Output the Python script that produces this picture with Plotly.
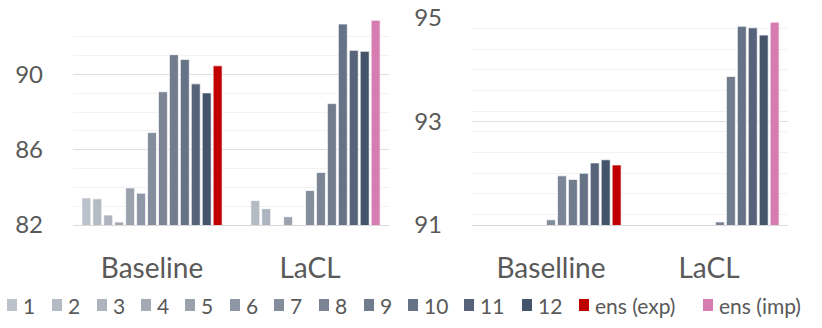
import plotly.graph_objects as go

# categories
left_categories = ["Baseline", "LaCL"]
right_categories = ["Baselline", "LaCL"]

series_names = [str(i) for i in range(1, 13)]

# left chart values (None = below the axis minimum, not visible)
left_values = [
    [83.44, None],
    [83.39, 83.30],
    [82.53, 82.87],
    [82.16, None],
    [83.97, 82.44],
    [83.69, None],
    [86.91, 83.83],
    [89.08, 84.79],
    [91.05, 88.45],
    [90.80, 92.68],
    [89.50, 91.28],
    [89.02, 91.23],
]
left_ens_exp = [90.46, None]
left_ens_imp = [None, 92.88]

# right chart values
right_values = [
    [None, None],
    [None, None],
    [None, None],
    [None, None],
    [None, None],
    [None, None],
    [91.10, None],
    [91.95, 91.06],
    [91.88, 93.87],
    [92.00, 94.84],
    [92.20, 94.81],
    [92.26, 94.67],
]
right_ens_exp = [92.16, None]
right_ens_imp = [None, 94.92]

colors = ["#bcc2cb", "#b5bbc5", "#aeb4bf", "#a3aab6", "#9aa2ae", "#8e97a5",
          "#848d9c", "#7b8595", "#717c8d", "#667286", "#56637a", "#44546a"]
red = "#c00000"
pink = "#d67cb1"
text_col = "#595959"
FONT = "Lato"

W, H = 822, 328
ml, mr, mt, mb = 73, 34, 18, 103
pw = W - ml - mr
ph = H - mt - mb

fig = go.Figure()
line = dict(color="rgba(255,255,255,0.7)", width=1)

for cats, vals, ens_e, ens_i, xa, ya in [
    (left_categories, left_values, left_ens_exp, left_ens_imp, "x", "y"),
    (right_categories, right_values, right_ens_exp, right_ens_imp, "x2", "y2"),
]:
    for i, v in enumerate(vals):
        fig.add_trace(go.Bar(x=cats, y=v, name=series_names[i], marker_color=colors[i],
                             marker_line=line, offsetgroup=str(i), xaxis=xa, yaxis=ya,
                             showlegend=False))
    fig.add_trace(go.Bar(x=cats, y=ens_e, name="ens (exp)", marker_color=red, marker_line=line,
                         offsetgroup="ens", xaxis=xa, yaxis=ya, showlegend=False))
    fig.add_trace(go.Bar(x=cats, y=ens_i, name="ens (imp)", marker_color=pink, marker_line=line,
                         offsetgroup="ens", xaxis=xa, yaxis=ya, showlegend=False))

xcommon = dict(type="category", showline=True, linecolor="#d9d9d9", linewidth=1, ticks="",
               showgrid=False, tickfont=dict(family=FONT, size=28, color=text_col),
               ticklabelstandoff=18, fixedrange=True, automargin=False)
ycommon = dict(showline=False, ticks="", zeroline=False, gridcolor="#dedede",
               tickfont=dict(family=FONT, size=24, color=text_col), ticklabelstandoff=29,
               automargin=False, fixedrange=True)

fig.update_layout(
    template="none",
    width=W, height=H,
    margin=dict(l=ml, r=mr, t=mt, b=mb, pad=0),
    paper_bgcolor="white", plot_bgcolor="white",
    barmode="group", bargap=0.1, bargroupgap=0.18,
    showlegend=False,
    xaxis=dict(domain=[0, 316 / pw], anchor="y", **xcommon),
    xaxis2=dict(domain=[(472 - ml) / pw, 1], anchor="y2", **xcommon),
    yaxis=dict(range=[82, 93], tick0=82, dtick=4, anchor="x",
               minor=dict(dtick=1, showgrid=True, gridcolor="#f2f2f2"), **ycommon),
    yaxis2=dict(range=[91, 95], tick0=91, dtick=2, anchor="x2",
                minor=dict(dtick=0.4, showgrid=True, gridcolor="#f2f2f2"), **ycommon),
)

# legend drawn by hand (Excel-like: small square right next to the label)
legend_labels = series_names + ["ens (exp)", "ens (imp)"]
legend_colors = colors + [red, pink]
legend_px = [7, 52, 97, 141, 185, 230, 274, 319, 364, 408, 464, 522, 579, 703]
ly = 305
for lab, col, px in zip(legend_labels, legend_colors, legend_px):
    fig.add_shape(type="rect", xref="paper", yref="paper",
                  x0=(px - ml) / pw, x1=(px + 10 - ml) / pw,
                  y0=(mt + ph - (ly + 6)) / ph, y1=(mt + ph - (ly - 6)) / ph,
                  fillcolor=col, line_width=0)
    fig.add_annotation(text=lab, xref="paper", yref="paper",
                       x=(px + 14 - ml) / pw, y=(mt + ph - ly) / ph,
                       xanchor="left", yanchor="middle", showarrow=False,
                       font=dict(family=FONT, size=21, color=text_col))

# page body has a default 8px margin; drop it so the figure fills the window
fig.write_html("out.html", config={"displayModeBar": False},
               post_script="document.body.style.margin='0';")
